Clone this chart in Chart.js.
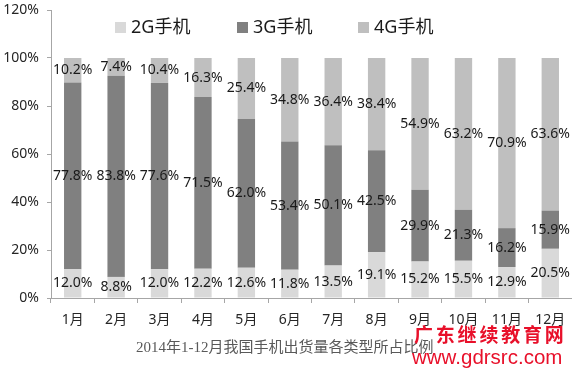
<!DOCTYPE html>
<html>
<head>
    <title>2014年手机出货量类型占比</title>
    <script src="https://cdn.jsdelivr.net/npm/chart.js"></script>
    <style>
        html, body { margin: 0; padding: 0; background: #fff; }
        #wrap { width: 572px; height: 369px; }
    </style>
</head>
<body>
    <div id="wrap"><canvas id="myChart" width="572" height="369"></canvas></div>

    <script>
        var months = ['1月', '2月', '3月', '4月', '5月', '6月', '7月', '8月', '9月', '10月', '11月', '12月'];
        var share2G = [12.0, 8.8, 12.0, 12.2, 12.6, 11.8, 13.5, 19.1, 15.2, 15.5, 12.9, 20.5];
        var share3G = [77.8, 83.8, 77.6, 71.5, 62.0, 53.4, 50.1, 42.5, 29.9, 21.3, 16.2, 15.9];
        var share4G = [10.2, 7.4, 10.4, 16.3, 25.4, 34.8, 36.4, 38.4, 54.9, 63.2, 70.9, 63.6];
        var seriesNames = ['2G手机', '3G手机', '4G手机'];
        var chartTitle = '2014年1-12月我国手机出货量各类型所占比例';

        var sansFont = '"Noto Sans", "Noto Sans CJK SC", sans-serif';

        // value labels in the middle of every segment
        var segmentLabels = {
            id: 'segmentLabels',
            afterDatasetsDraw: function(chart) {
                var ctx = chart.ctx;
                ctx.save();
                ctx.font = '14px ' + sansFont;
                ctx.fillStyle = '#1a1a1a';
                ctx.textAlign = 'center';
                ctx.textBaseline = 'middle';
                chart.data.datasets.forEach(function(ds, i) {
                    chart.getDatasetMeta(i).data.forEach(function(bar, j) {
                        var y = (bar.y + bar.base) / 2;
                        ctx.fillText(ds.data[j].toFixed(1) + '%', bar.x, y);
                    });
                });
                ctx.restore();
            }
        };

        // legend inside the top of the plot, title and watermark at the bottom
        var extras = {
            id: 'extras',
            afterDraw: function(chart) {
                var ctx = chart.ctx;
                ctx.save();
                var legendX = [115, 237, 358];
                ctx.textBaseline = 'middle';
                ctx.textAlign = 'left';
                chart.data.datasets.forEach(function(ds, i) {
                    ctx.fillStyle = ds.backgroundColor;
                    ctx.fillRect(legendX[i], 22, 11, 11);
                    ctx.fillStyle = '#1a1a1a';
                    ctx.font = '18px ' + sansFont;
                    ctx.fillText(ds.label, legendX[i] + 16, 28);
                });

                ctx.fillStyle = '#595959';
                ctx.font = '15px "Liberation Serif", "Noto Sans CJK SC", serif';
                ctx.fillText(chartTitle, 136, 348);

                ctx.fillStyle = '#e8102a';
                ctx.font = 'bold 19px "Noto Sans CJK SC", sans-serif';
                var wm = '广东继续教育网';
                for (var k = 0; k < wm.length; k++) {
                    ctx.fillText(wm[k], 414 + k * 21.8, 335);
                }
                ctx.font = '20.5px "Liberation Sans", sans-serif';
                ctx.fillText('www.gdrsrc.com', 412, 358);
                ctx.restore();
            }
        };

        var ctx = document.getElementById('myChart').getContext('2d');
        var myChart = new Chart(ctx, {
            type: 'bar',
            data: {
                labels: months,
                datasets: [
                    { label: seriesNames[0], data: share2G, backgroundColor: '#d9d9d9' },
                    { label: seriesNames[1], data: share3G, backgroundColor: '#808080' },
                    { label: seriesNames[2], data: share4G, backgroundColor: '#bfbfbf' }
                ]
            },
            options: {
                responsive: false,
                animation: false,
                layout: { padding: { top: 10, right: 0, bottom: 40, left: 0 } },
                datasets: {
                    bar: { barPercentage: 0.4, categoryPercentage: 1.0 }
                },
                plugins: {
                    legend: { display: false },
                    tooltip: { enabled: false }
                },
                scales: {
                    x: {
                        stacked: true,
                        afterFit: function(s) { s.height = 31; s.paddingLeft = 0; s.paddingRight = 0; },
                        grid: { drawOnChartArea: false, tickLength: 5, color: '#a6a6a6', offset: true },
                        border: { color: '#a6a6a6' },
                        ticks: { color: '#262626', font: { size: 14, family: sansFont }, padding: 9, maxRotation: 0 }
                    },
                    y: {
                        stacked: true,
                        min: 0,
                        max: 120,
                        afterFit: function(s) { s.width = 51; s.paddingTop = 0; s.paddingBottom = 0; },
                        grid: { drawOnChartArea: false, tickLength: 4, color: '#a6a6a6' },
                        border: { color: '#a6a6a6' },
                        ticks: {
                            stepSize: 20,
                            color: '#262626',
                            font: { size: 14, family: sansFont },
                            padding: 8,
                            callback: function(v) { return v + '%'; }
                        }
                    }
                }
            },
            plugins: [segmentLabels, extras]
        });
    </script>
</body>
</html>
